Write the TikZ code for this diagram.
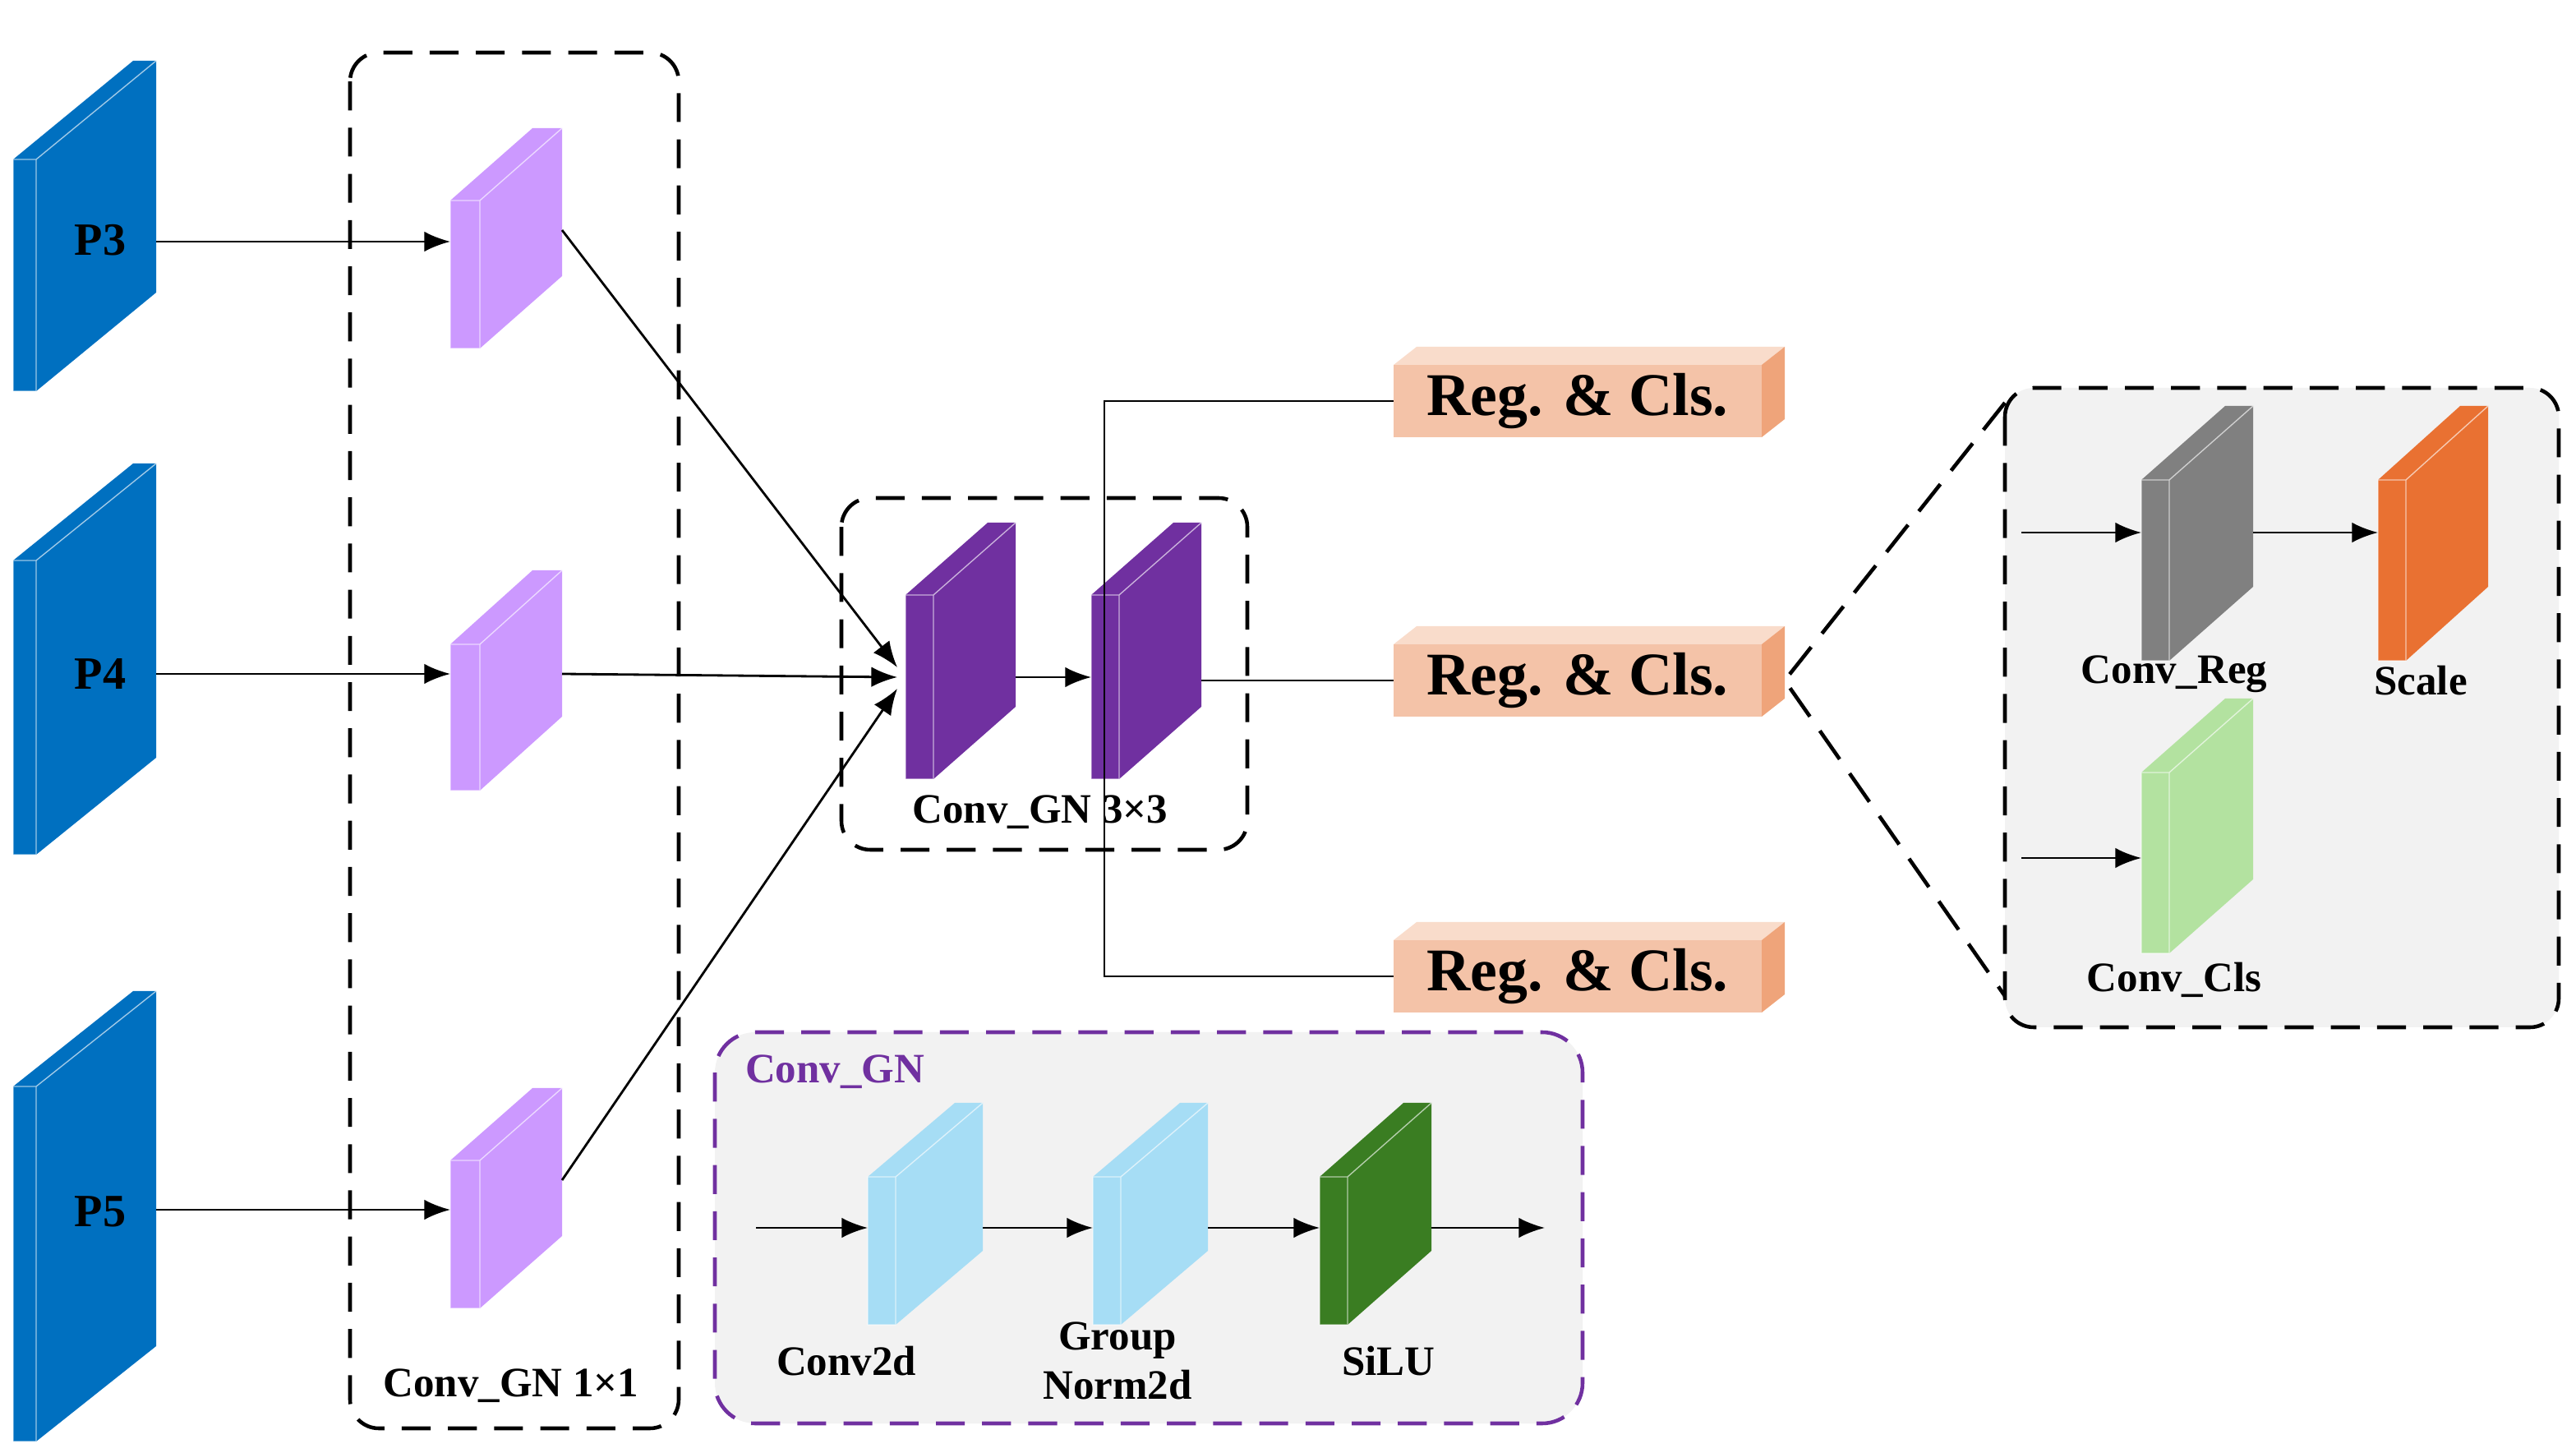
\documentclass[tikz,border=0pt]{standalone}
\usepackage{fontspec}
\setmainfont{Liberation Serif}
\usetikzlibrary{arrows.meta,calc}
\definecolor{pblue}{HTML}{0070C0}
\definecolor{lpur}{HTML}{CC99FF}
\definecolor{dpur}{HTML}{7030A0}
\definecolor{rfront}{HTML}{F4C3A8}
\definecolor{rtop}{HTML}{F9DCCB}
\definecolor{rside}{HTML}{EFA47A}
\definecolor{gbox}{HTML}{F2F2F2}
\definecolor{oran}{HTML}{E97132}
\definecolor{lgreen}{HTML}{B3E2A0}
\definecolor{lblue}{HTML}{A6DDF5}
\definecolor{dgreen}{HTML}{3A7D22}
\definecolor{gslab}{HTML}{808080}
\newcommand\slab[8]{%
 \fill[#8] (#2,#3) rectangle ++(#4,#5);
 \fill[#8] (#2+#4,#3) -- ++(#6,-#7) -- ++(0,#5) -- ++(-#6,#7) -- cycle;
 \fill[#8] (#2,#3) -- ++(#6,-#7) -- ++(#4,0) -- ++(-#6,#7) -- cycle;
 \draw[white,opacity=.6,line width=.4pt] (#2,#3) rectangle ++(#4,#5) (#2+#4,#3) -- ++(#6,-#7);
 \coordinate (#1-w) at (#2,#3+#5/2);
 \coordinate (#1-e) at (#2+#4+#6,#3+#5/2-#7);
}
\begin{document}
\begin{tikzpicture}[x=0.02cm,y=-0.02cm,
 arr/.style={-{Latex[length=9pt,width=7pt]},line width=0.8pt},
 ln/.style={line width=0.8pt},
 dbox/.style={dashed,dash pattern=on 10pt off 6pt,line width=1.3pt,rounded corners=10pt},
 lbl/.style={font=\bfseries\fontsize{14.5}{15}\selectfont,align=center},
 plbl/.style={font=\bfseries\fontsize{16}{17}\selectfont},
 rlbl/.style={font=\bfseries\fontsize{21}{22}\selectfont}]
\useasboundingbox (0,0) rectangle (1567.5,884);
% dashed boxes
\draw[dbox] (213,32) rectangle (413,869);
\node[lbl] (l11) at (311,843) {Conv\_GN 1×1};
\draw[dbox] (512,303) rectangle (759,517);
\filldraw[dbox,fill=gbox] (1220,236) rectangle (1557,625);
\filldraw[dbox,draw=dpur,fill=gbox,rounded corners=14pt] (435,628) rectangle (963,866);
\node[lbl,text=dpur] (cgn) at (508,652) {Conv\_GN};
% P slabs
\slab{P3}{8}{97}{14}{141}{73}{60}{pblue}
\slab{P4}{8}{341}{14}{179}{73}{59}{pblue}
\slab{P5}{8}{661}{14}{216}{73}{58}{pblue}
\node[plbl] (p3) at (61,146) {P3};
\node[plbl] (p4) at (61,410) {P4};
\node[plbl] (p5) at (61,737) {P5};
% light purple
\slab{L1}{274}{122}{18}{90}{50}{44}{lpur}
\slab{L2}{274}{392}{18}{89}{50}{45}{lpur}
\slab{L3}{274}{706}{18}{90}{50}{44}{lpur}
\coordinate (a3) at (95,147); \coordinate (b3) at (274,147);
\coordinate (a4) at (95,410); \coordinate (b4) at (274,410);
\coordinate (a5) at (95,736); \coordinate (b5) at (274,736);
\draw[arr] (a3) -- (b3);
\draw[arr] (a4) -- (b4);
\draw[arr] (a5) -- (b5);
% dark purple
\slab{D1}{551}{362}{17}{112}{50}{44}{dpur}
\slab{D2}{664}{362}{17}{112}{50}{44}{dpur}
\node[lbl] (l33) at (633,494) {Conv\_GN 3×3};
\coordinate (c1) at (342,140); \coordinate (c2) at (342,410); \coordinate (c3) at (342,718);
\coordinate (t1) at (546,406); \coordinate (t2) at (546,412); \coordinate (t3) at (546,419);
\draw[arr] (c1) -- (t1);
\draw[arr] (c2) -- (t2);
\draw[arr] (c3) -- (t3);
\coordinate (d1) at (618,412); \coordinate (d2) at (664,412);
\draw[arr] (d1) -- (d2);
% Reg boxes
\foreach \n/\y in {R1/222,R2/392,R3/572}{
 \fill[rfront] (848,\y) rectangle (1072,\y+44);
 \fill[rtop] (848,\y) -- (862,\y-11) -- (1086,\y-11) -- (1072,\y) -- cycle;
 \fill[rside] (1072,\y) -- (1086,\y-11) -- (1086,\y+33) -- (1072,\y+44) -- cycle;
 \node[rlbl] (\n) at (960,\y+22) {Reg. \& Cls.};
 \coordinate (\n-w) at (848,\y+22);
}
\coordinate (v1) at (672,244); \coordinate (v3) at (672,594);
\draw[ln] (R1-w) -- (v1) -- (v3) -- (R3-w);
\coordinate (m1) at (731,414);
\draw[ln] (m1) -- (R2-w);
% zoom lines
\coordinate (z0) at (1086,414); \coordinate (z1) at (1220,245); \coordinate (z2) at (1220,606);
\draw[dashed,dash pattern=on 12pt off 6pt,line width=1.3pt] (z1) -- (z0) -- (z2);
% zoom content
\slab{G}{1303}{292}{17}{110}{51}{45}{gslab}
\slab{S}{1447}{292}{17}{110}{50}{45}{oran}
\slab{C}{1303}{470}{17}{110}{51}{45}{lgreen}
\coordinate (e1) at (1230,324); \coordinate (f1) at (1303,324);
\coordinate (e2) at (1371,324); \coordinate (f2) at (1447,324);
\coordinate (e3) at (1230,522); \coordinate (f3) at (1303,522);
\draw[arr] (e1) -- (f1); \draw[arr] (e2) -- (f2); \draw[arr] (e3) -- (f3);
\node[lbl] (creg) at (1323,410) {Conv\_Reg};
\node[lbl] (scl) at (1473,414) {Scale};
\node[lbl] (ccls) at (1323,596) {Conv\_Cls};
% Conv_GN content
\slab{B1}{528}{716}{17}{90}{53}{45}{lblue}
\slab{B2}{665}{716}{17}{90}{53}{45}{lblue}
\slab{B3}{803}{716}{17}{90}{51}{45}{dgreen}
\coordinate (g0) at (460,747); \coordinate (g1) at (528,747);
\coordinate (g2) at (598,747); \coordinate (g3) at (665,747);
\coordinate (g4) at (735,747); \coordinate (g5) at (803,747);
\coordinate (g6) at (871,747); \coordinate (g7) at (940,747);
\draw[arr] (g0) -- (g1); \draw[arr] (g2) -- (g3); \draw[arr] (g4) -- (g5); \draw[arr] (g6) -- (g7);
\node[lbl] (c2d) at (515,828) {Conv2d};
\node[lbl,inner sep=0pt] (gn) at (680,828) {Group\\[2pt]Norm2d};
\node[lbl] (silu) at (845,828) {SiLU};
\end{tikzpicture}
\end{document}
